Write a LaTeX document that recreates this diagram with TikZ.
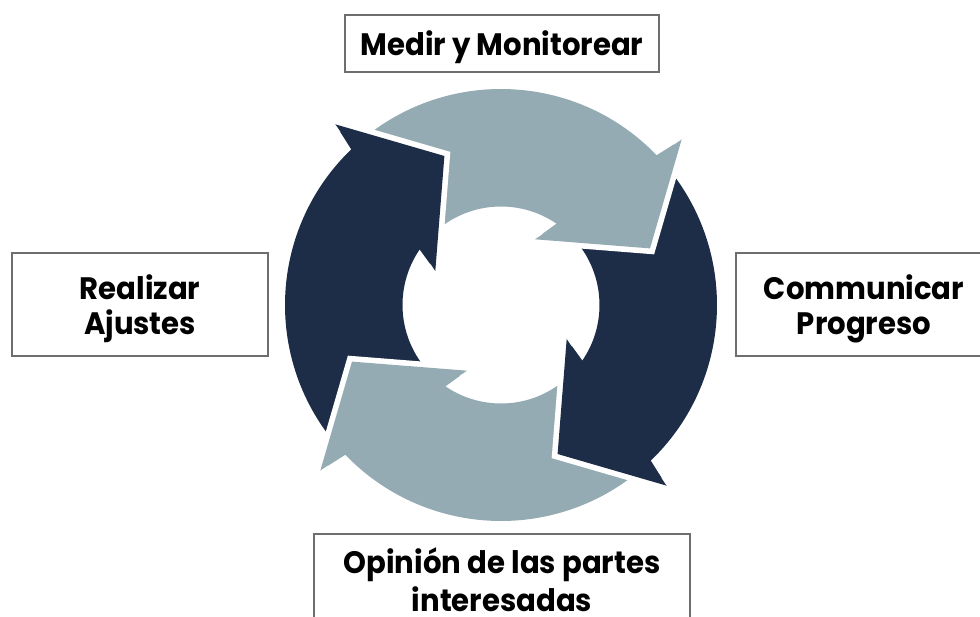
\documentclass[tikz,border=0pt]{standalone}
\usepackage{fontspec}
\setmainfont{Poppins}[FakeStretch=0.94]
\definecolor{cyclelight}{HTML}{94ABB3}
\definecolor{cycledark}{HTML}{1D2D47}
\definecolor{boxline}{HTML}{6E6E6E}

\begin{document}
\begin{tikzpicture}[
		x=1pt, y=1pt,
		every node/.style={rectangle, draw=boxline, line width=1.2pt, align=center, inner sep=0pt, text depth=0pt, font=\bfseries\fontsize{31}{35}\selectfont},
		sidebox/.style={minimum width=256pt, minimum height=103pt}
		]
		\useasboundingbox (-501,-311) rectangle (479,305);
		
		% the four arrows of the cycle, turned clockwise
		\foreach \k/\col in {0/cyclelight,1/cycledark,2/cyclelight,3/cycledark}
			\fill[\col, rotate=-90*\k] (130:216) arc[start angle=130, end angle=43.9, radius=216]
				-- (42.5:245) -- (20.8:159.4) -- (62.6:74) -- (55.7:98.5)
				arc[start angle=55.7, end angle=130, radius=98.5] -- cycle;
		% heads again on top, with a white gap in front
		\foreach \k/\col in {0/cyclelight,1/cycledark,2/cyclelight,3/cycledark} {
			\draw[white, line width=11.2pt, rotate=-90*\k] (42.5:245) -- (20.8:159.4) -- (62.6:74);
			\fill[\col, rotate=-90*\k] (42.5:245) -- (20.8:159.4) -- (62.6:74) -- cycle;
		}
		
		\node[minimum width=314pt, minimum height=57pt] (medir) at (1,261.5) {Medir y Monitorear};
		\node[sidebox] (progreso) at (363,0.5) {Communicar\\Progreso};
		\node[minimum width=376pt, minimum height=92pt, font=\bfseries\fontsize{31}{38}\selectfont] (opinion) at (1,-275) {Opinión de las partes\\interesadas};
		\node[sidebox] (ajustes) at (-361,0.5) {Realizar\\Ajustes};
	\end{tikzpicture}
\end{document}
